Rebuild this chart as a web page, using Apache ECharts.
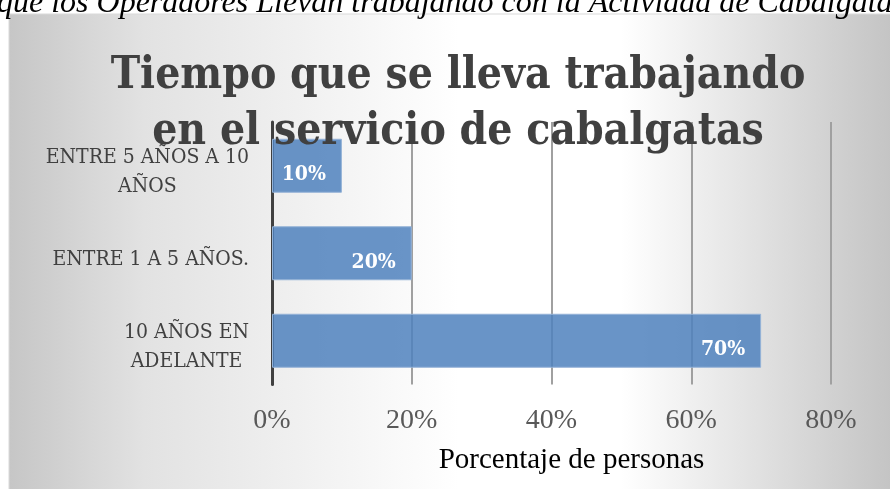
<!DOCTYPE html>
<html>
<head>
<meta charset="utf-8">
<script src="https://cdn.jsdelivr.net/npm/echarts@6/dist/echarts.min.js"></script>
<style>
  html, body { margin: 0; padding: 0; background: #fff; }
  #chart { width: 890px; height: 489px; }
</style>
</head>
<body>
<div id="chart"></div>
<script>
// data, top to bottom as in the picture
const categories = ['ENTRE 5 AÑOS A 10\nAÑOS', 'ENTRE 1 A 5 AÑOS.', '10 AÑOS EN\nADELANTE'];
const values = [0.10, 0.20, 0.70];
const xTicks = [0, 0.2, 0.4, 0.6, 0.8];

const caption = 'que los Operadores Llevan trabajando con la Actividad de Cabalgata';
const titleText = 'Tiempo que se lleva trabajando\nen el servicio de cabalgatas';
const axisName = 'Porcentaje de personas';

const serif = '"DejaVu Serif Condensed", "DejaVu Serif", serif';
const times = '"Liberation Serif", serif';
const pct = v => Math.round(v * 100) + '%';

const chart = echarts.init(document.getElementById('chart'));
chart.setOption({
    animation: false,
    title: [
        {
            text: caption,
            left: -3, top: -12, padding: 0,
            textStyle: { fontFamily: times, fontStyle: 'italic', fontWeight: 'normal', fontSize: 32, color: '#000' }
        },
        {
            text: titleText,
            left: 453, top: 44, textAlign: 'center',
            textStyle: { fontFamily: serif, fontWeight: 'bold', fontSize: 44, lineHeight: 56, color: '#404040' }
        }
    ],
    graphic: [{
        type: 'rect', z: -10, silent: true,
        shape: { x: 9, y: 14, width: 900, height: 500 },
        style: {
            stroke: '#d9d9d9', lineWidth: 1,
            fill: new echarts.graphic.LinearGradient(0, 0, 1, 0, [
                { offset: 0, color: '#c6c6c6' },
                { offset: 0.15, color: '#e2e2e2' },
                { offset: 0.5, color: '#ffffff' },
                { offset: 0.68, color: '#ffffff' },
                { offset: 1, color: '#c0c0c0' }
            ])
        }
    }],
    grid: { left: 272, right: 59, top: 122, bottom: 104.5 },
    xAxis: {
        type: 'value', min: xTicks[0], max: xTicks[xTicks.length - 1], interval: 0.2,
        axisLine: { show: false }, axisTick: { show: false },
        splitLine: { lineStyle: { color: '#a0a0a0', width: 2 } },
        axisLabel: {
            formatter: pct, margin: 22,
            fontFamily: times, fontSize: 28, color: '#595959'
        },
        name: axisName, nameLocation: 'middle', nameGap: 61,
        nameTextStyle: { fontFamily: times, fontSize: 29, color: '#000', padding: [0, 0, 0, 40] }
    },
    yAxis: {
        type: 'category', data: categories, inverse: true,
        axisTick: { show: false },
        axisLine: { lineStyle: { color: '#404040', width: 3 } },
        axisLabel: {
            margin: 23, align: 'right', padding: [12, 0, 0, 0],
            formatter: v => v.split('\n').map(l => '{c|' + l + '}').join('\n'),
            rich: { c: { align: 'center', fontFamily: serif, fontSize: 21, lineHeight: 29, color: '#404040' } }
        }
    },
    series: [{
        type: 'bar', data: values, barWidth: 54,
        itemStyle: { color: 'rgba(79,129,189,0.85)', borderColor: '#95b3d7', borderWidth: 1 },
        label: {
            show: true, position: 'insideRight', distance: 16, offset: [0, 9],
            formatter: p => pct(p.value),
            fontFamily: serif, fontWeight: 'bold', fontSize: 21, color: '#fff'
        }
    }]
});
</script>
</body>
</html>
